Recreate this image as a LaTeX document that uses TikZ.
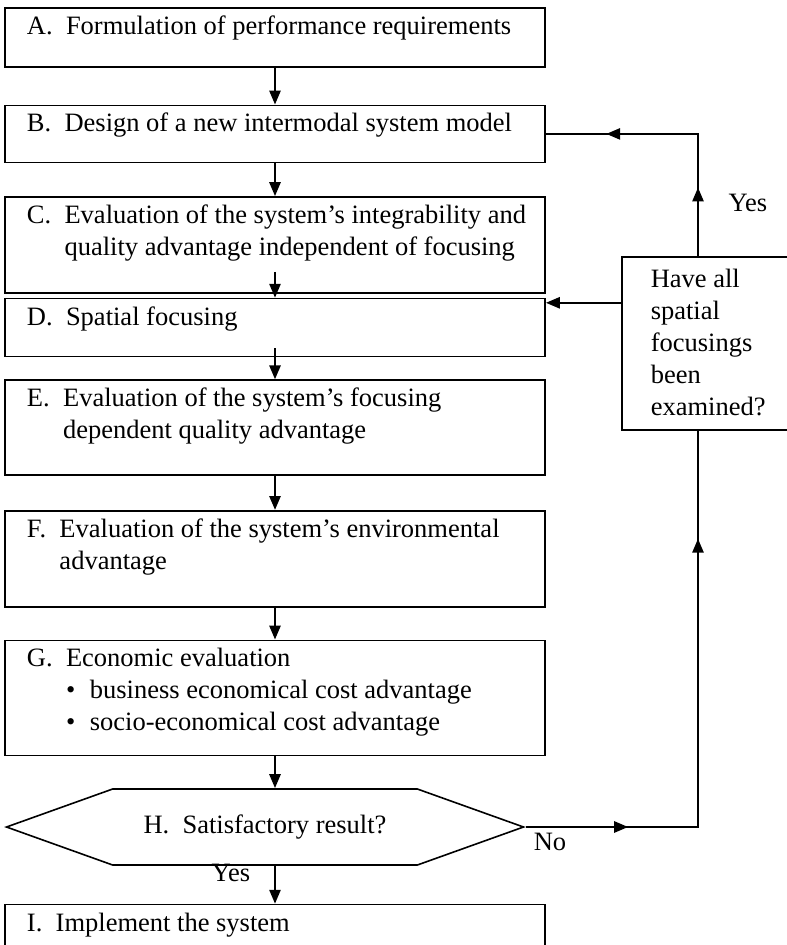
\documentclass[tikz,border=0pt]{standalone}
\usepackage{fontspec}
\setmainfont{Liberation Serif}
\usetikzlibrary{positioning}
\usetikzlibrary{arrows.meta}
\usetikzlibrary{shapes.symbols}
\usetikzlibrary{decorations.markings}
\tikzset{%
  stage/.style = {draw, line width=1.6pt, inner xsep=22pt, inner ysep=0pt,
        minimum width=540pt},
  decision/.style = {signal, signal to=west and east, draw, line width=1.6pt,
        signal pointer angle=39.4, minimum width=517pt, minimum height=76pt,
        inner sep=0pt},
  query/.style = {draw, line width=1.6pt, inner xsep=29pt, inner ysep=0pt,
        minimum width=180pt},
  flow/.style = {line width=2.6pt, -{Triangle[length=14pt,width=11pt]}},
  backline/.style 2 args = {line width=2.6pt, postaction={decorate},
        decoration={markings,
          mark=at position #1 with {\arrow{Triangle[length=14pt,width=11pt]}},
          mark=at position #2 with {\arrow{Triangle[length=14pt,width=11pt]}}}},
  note/.style = {inner sep=0pt}
}
% box text: height, letter, lines
\newcommand{\boxtext}[3]{\parbox[c][#1][t]{496pt}{\vspace{4pt}\noindent
  \begin{tabular}{@{}l@{\hspace{0.5em}}l@{}}#2 & #3\end{tabular}}}
\newcommand{\bul}{\textbullet\hspace{0.55em}}

\begin{document}
\begin{tikzpicture}[font=\fontsize{26.5}{32}\selectfont]
    \path[use as bounding box] (0,0) rectangle (787pt,-945pt);
    \clip (0,0) rectangle (787pt,-945pt);

    \node[stage, anchor=north] (A) at (275pt,-7pt)
        {\boxtext{59pt}{A.}{Formulation of performance requirements}};
    \node[stage, below=37pt of A] (B)
        {\boxtext{57pt}{B.}{Design of a new intermodal system model}};
    \node[stage, below=33pt of B] (C)
        {\boxtext{96pt}{C.}{Evaluation of the system’s integrability and\\
          & quality advantage independent of focusing}};
    \node[stage, below=4pt of C] (D)
        {\boxtext{58pt}{D.}{Spatial focusing}};
    \node[stage, below=22pt of D] (E)
        {\boxtext{95pt}{E.}{Evaluation of the system’s focusing\\
          & dependent quality advantage}};
    \node[stage, below=34pt of E] (F)
        {\boxtext{96pt}{F.}{Evaluation of the system’s environmental\\
          & advantage}};
    \node[stage, below=32pt of F] (G)
        {\boxtext{115pt}{G.}{Economic evaluation\\
          & \bul business economical cost advantage\\
          & \bul socio-economical cost advantage}};
    \node[decision, below=32pt of G, xshift=-10pt] (H)
        {H.\ \ Satisfactory result?};
    \node[stage, below=38pt of H, xshift=10pt] (I)
        {\boxtext{80pt}{I.}{Implement the system}};

    \node[query, anchor=north west] (Q) at (621pt,-256pt)
        {\parbox[c][173pt][t]{122pt}{\vspace{12pt}\raggedright
          Have all\\spatial\\focusings\\been\\examined?}};

    \coordinate (rail) at (698pt,0);
    \coordinate (Din) at ([yshift=-5pt]D.north east);

    \draw[flow] (A) -- (B);
    \draw[flow] (B) -- (C);
    \draw[flow] ([yshift=22pt]C.south) -- (D.north);
    \draw[flow] ([yshift=9pt]D.south) -- (E.north);
    \draw[flow] (E) -- (F);
    \draw[flow] (F) -- (G);
    \draw[flow] (G.south) -- (G.south |- H.north);
    \draw[flow] (I.north |- H.south) -- (I.north);

    % loop back through the question box
    \draw[backline={0.18}{0.81}] (H.east) -- (H.east -| rail) -- (rail |- Q.south);
    \draw[backline={0.25}{0.78}] (rail |- Q.north) -- (rail |- B.east) -- (B.east);
    \draw[flow] (Din -| Q.west) -- (Din);

    \node[note] (yesI) at (231pt,-873pt) {Yes};
    \node[note] (no) at (550pt,-842pt) {No};
    \node[note] (yesQ) at (748pt,-203pt) {Yes};
\end{tikzpicture}
\end{document}
